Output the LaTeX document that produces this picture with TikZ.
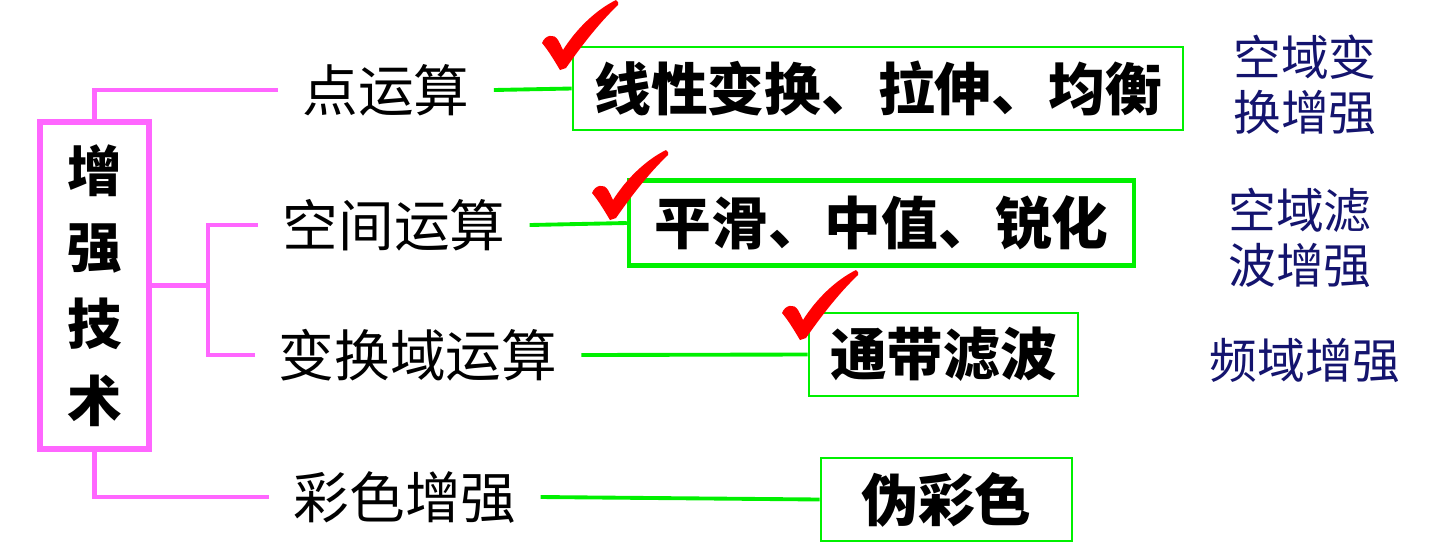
\documentclass[tikz,border=0pt]{standalone}
\usepackage{fontspec}
\newfontfamily\cjk{Noto Sans CJK SC}
\definecolor{TechPink}{RGB}{255,102,255}
\definecolor{BoxGreen}{RGB}{0,240,0}
\definecolor{DomainNavy}{RGB}{20,20,110}
\usepackage{tikz}
\usetikzlibrary{positioning}

\begin{document}
\begin{tikzpicture}[x=0.02cm, y=-0.02cm,
  pinkline/.style={draw=TechPink, line width=2.4pt},
  greenline/.style={draw=BoxGreen, line width=2.2pt},
  opnode/.style={inner xsep=13.6pt, inner ysep=0pt, font=\cjk\fontsize{31.7}{36}\selectfont},
  resbox/.style={draw=BoxGreen, line width=1.6pt, minimum height=1.66cm, inner sep=0pt,
                 font=\cjk\bfseries\fontsize{32.3}{36}\selectfont},
  domtext/.style={text=DomainNavy, align=center, font=\cjk\fontsize{27.2}{31.2}\selectfont},
  redtick/.pic={
    \fill[red] (0,0) .. controls (-6,-10) and (-12,-20) .. (-18,-27)
      .. controls (-15,-35) and (-6,-37) .. (-2,-30)
      .. controls (0,-27) and (1,-24) .. (3,-20)
      .. controls (17,-42) and (36,-60) .. (56,-70)
      .. controls (58,-69) and (59,-67) .. (58,-65)
      .. controls (38,-46) and (20,-22) .. (6,-2) -- cycle;
  }]
  \useasboundingbox (0,0) rectangle (1431,556);

  % main box
  \node[draw=TechPink, line width=3.8pt, minimum width=2.18cm, minimum height=6.54cm,
        align=center, font=\cjk\bfseries\fontsize{31}{43.7}\selectfont]
    (tech) at (94.5,285.5) {增\\强\\技\\术};

  % operations
  \node[opnode] (dian) at (386,90) {点运算};
  \node[opnode] (kong) at (394,225) {空间运算};
  \node[opnode] (bian) at (418,355) {变换域运算};
  \node[opnode] (cai) at (405,497) {彩色增强};

  % methods
  \node[resbox, minimum width=12.2cm] (xian) at (878,88.5) {线性变换、拉伸、均衡};
  \node[resbox, minimum width=10.1cm, minimum height=1.7cm, line width=2.6pt] (ping) at (881.5,223) {平滑、中值、锐化};
  \node[resbox, minimum width=5.38cm] (tong) at (943.5,354.5) {通带滤波};
  \node[resbox, minimum width=5.02cm] (wei) at (946.5,499.5) {伪彩色};

  % domains
  \node[domtext] (kybh) at (1305,85) {空域变\\换增强};
  \node[domtext] (kylb) at (1300,238) {空域滤\\波增强};
  \node[domtext] (pyzq) at (1305,360) {频域增强};

  % tree lines
  \draw[pinkline] (tech.north) |- (dian.west);
  \draw[pinkline] (tech.east) -- ++(56,0) coordinate (fork);
  \draw[pinkline] (fork) |- (kong.west);
  \draw[pinkline] (fork) |- (bian.west);
  \draw[pinkline] (tech.south) |- (cai.west);

  \draw[greenline] (dian.east) -- (xian.west);
  \draw[greenline] (kong.east) -- (ping.west);
  \draw[greenline] (bian.east) -- (tong.west);
  \draw[greenline] (cai.east) -- (wei.west);

  % ticks
  \pic at (560,70) {redtick};
  \pic at (610,220) {redtick};
  \pic at (800,340) {redtick};
\end{tikzpicture}
\end{document}
